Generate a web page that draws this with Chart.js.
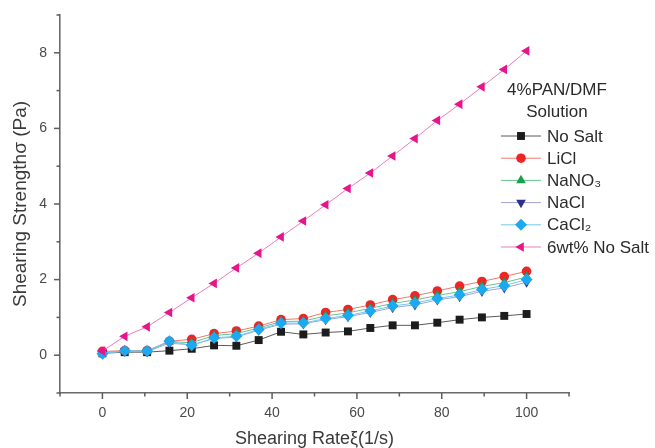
<!DOCTYPE html>
<html>
<head>
<meta charset="utf-8">
<script src="https://cdn.jsdelivr.net/npm/chart.js@4/dist/chart.umd.min.js"></script>
<style>
  html, body { margin: 0; padding: 0; background: #ffffff; }
  #wrap { width: 655px; height: 448px; }
</style>
</head>
<body>
<div id="wrap"><canvas id="c" width="655" height="448"></canvas></div>
<script>
// ---- data ----
const shearRate = [0, 5.26, 10.53, 15.79, 21.05, 26.32, 31.58, 36.84, 42.11, 47.37,
                   52.63, 57.89, 63.16, 68.42, 73.68, 78.95, 84.21, 89.47, 94.74, 100];
const noSalt    = [0.05, 0.08, 0.08, 0.12, 0.17, 0.26, 0.25, 0.40, 0.62, 0.55,
                   0.60, 0.63, 0.72, 0.79, 0.79, 0.86, 0.94, 1.00, 1.04, 1.09];
const liCl      = [0.10, 0.12, 0.12, 0.37, 0.42, 0.57, 0.64, 0.77, 0.94, 0.97,
                   1.13, 1.21, 1.33, 1.47, 1.57, 1.70, 1.83, 1.95, 2.08, 2.22];
const naNO3     = [0.07, 0.11, 0.10, 0.36, 0.33, 0.52, 0.57, 0.72, 0.89, 0.90,
                   1.04, 1.12, 1.24, 1.37, 1.46, 1.58, 1.68, 1.82, 1.92, 2.07];
const naCl      = [0.05, 0.10, 0.09, 0.32, 0.27, 0.44, 0.48, 0.66, 0.82, 0.83,
                   0.94, 1.02, 1.13, 1.26, 1.33, 1.46, 1.55, 1.69, 1.78, 1.93];
const caCl2     = [0.04, 0.12, 0.11, 0.37, 0.26, 0.46, 0.50, 0.68, 0.85, 0.85,
                   0.97, 1.05, 1.17, 1.30, 1.38, 1.50, 1.59, 1.74, 1.84, 2.00];
const noSalt6   = [0.11, 0.50, 0.75, 1.13, 1.52, 1.90, 2.31, 2.70, 3.13, 3.55,
                   3.98, 4.41, 4.82, 5.27, 5.73, 6.21, 6.64, 7.10, 7.56, 8.05];
const seriesLabels = ['No Salt', 'LiCl', 'NaNO\u2083', 'NaCl', 'CaCl\u2082', '6wt% No Salt'];
const legendTitle = ['4%PAN/DMF', 'Solution'];
const xTitle = 'Shearing Rate\u03BE(1/s)';
const yTitle = 'Shearing Strength\u03C3 (Pa)';

const FONT = "'Liberation Sans', Arial, sans-serif";

function pts(ys) { return shearRate.map((x, i) => ({ x: x, y: ys[i] })); }

const styles = [
  { line: '#5a5a5a', mark: '#1c1c1c', shape: 'rect',     rot: 0,   r: 5.6 },
  { line: '#f2776c', mark: '#ec2525', shape: 'circle',   rot: 0,   r: 4.8 },
  { line: '#66c48e', mark: '#17a04f', shape: 'triangle', rot: 0,   r: 5.6 },
  { line: '#a3a3d6', mark: '#2d2f8c', shape: 'triangle', rot: 180, r: 5.6 },
  { line: '#71c9f0', mark: '#1ba9ef', shape: 'rectRot',  rot: 0,   r: 6.0 },
  { line: '#f27bb9', mark: '#e5168b', shape: 'triangle', rot: -90, r: 5.6 }
];
const seriesData = [noSalt, liCl, naNO3, naCl, caCl2, noSalt6];

const datasets = seriesData.map((ys, i) => ({
  label: seriesLabels[i],
  data: pts(ys),
  borderColor: styles[i].line,
  borderWidth: 1,
  backgroundColor: styles[i].mark,
  pointBackgroundColor: styles[i].mark,
  pointBorderColor: styles[i].mark,
  pointBorderWidth: 0,
  pointStyle: styles[i].shape,
  pointRotation: styles[i].rot,
  pointRadius: styles[i].r,
  pointHoverRadius: styles[i].r,
  showLine: true,
  tension: 0,
  order: 6 - i
}));

// ticks (major / minor) drawn through the scales
const tickPlugin = {
  id: 'axisTicks',
  afterDraw(chart) {
    const ctx = chart.ctx;
    const xs = chart.scales.x, ys = chart.scales.y;
    ctx.save();
    ctx.strokeStyle = '#5c5c5c';
    ctx.lineWidth = 1.5;
    xs.ticks.forEach(t => {
      const major = Math.round(t.value) % 20 === 0;
      const px = xs.getPixelForValue(t.value);
      ctx.beginPath();
      ctx.moveTo(px, xs.top);
      ctx.lineTo(px, xs.top + (major ? 6 : 3.5));
      ctx.stroke();
    });
    ys.ticks.forEach(t => {
      const major = Math.round(t.value) % 2 === 0;
      const py = ys.getPixelForValue(t.value);
      ctx.beginPath();
      ctx.moveTo(ys.right, py);
      ctx.lineTo(ys.right - (major ? 6 : 3.5), py);
      ctx.stroke();
    });
    ctx.restore();
  }
};

// legend drawn inside the plot
const legendPlugin = {
  id: 'sideLegend',
  afterDraw(chart) {
    const ctx = chart.ctx;
    ctx.save();
    ctx.fillStyle = '#2a2a2a';
    ctx.font = '17px ' + FONT;
    ctx.textAlign = 'center';
    ctx.textBaseline = 'middle';
    ctx.fillText(legendTitle[0], 557, 90);
    ctx.fillText(legendTitle[1], 557, 112);
    const rowY0 = 136, rowStep = 22.2;
    chart.data.datasets.forEach((ds, i) => {
      const y = rowY0 + i * rowStep;
      ctx.strokeStyle = ds.borderColor;
      ctx.lineWidth = 1;
      ctx.beginPath();
      ctx.moveTo(501, y);
      ctx.lineTo(541, y);
      ctx.stroke();
      ctx.fillStyle = ds.pointBackgroundColor;
      ctx.strokeStyle = ds.pointBorderColor;
      Chart.helpers.drawPoint(ctx, {
        pointStyle: ds.pointStyle, rotation: ds.pointRotation,
        radius: ds.pointRadius, borderWidth: 0
      }, 521, y);
      ctx.fillStyle = '#2a2a2a';
      ctx.textAlign = 'left';
      ctx.fillText(ds.label, 547, y + 1);
    });
    ctx.restore();
  }
};

new Chart(document.getElementById('c'), {
  type: 'scatter',
  data: { datasets: datasets },
  plugins: [tickPlugin, legendPlugin],
  options: {
    responsive: false,
    animation: false,
    events: [],
    layout: { padding: { top: 15, right: 86, left: 0, bottom: 0 } },
    plugins: { legend: { display: false }, tooltip: { enabled: false } },
    scales: {
      x: {
        type: 'linear', min: -10, max: 110,
        afterFit(s) { s.height = 55; s.paddingLeft = 0; s.paddingRight = 0; },
        grid: { display: false, drawTicks: false },
        border: { display: true, color: '#6a6a6a', width: 1.6 },
        ticks: {
          stepSize: 10, autoSkip: false, maxRotation: 0, padding: 12,
          color: '#4a4a4a', font: { family: FONT, size: 14 },
          callback: v => (Math.round(v) % 20 === 0 ? String(v) : '')
        },
        title: {
          display: true, text: xTitle, color: '#3a3a3a',
          font: { family: FONT, size: 18, lineHeight: 1 },
          padding: { top: 0, bottom: 0 }
        }
      },
      y: {
        type: 'linear', min: -1, max: 9,
        afterFit(s) { s.width = 60; s.paddingTop = 0; s.paddingBottom = 0; },
        grid: { display: false, drawTicks: false },
        border: { display: true, color: '#6a6a6a', width: 1.6 },
        ticks: {
          stepSize: 1, autoSkip: false, padding: 13,
          color: '#4a4a4a', font: { family: FONT, size: 14 },
          callback: v => (Math.round(v) % 2 === 0 ? String(v) : '')
        },
        title: {
          display: true, text: yTitle, color: '#3a3a3a',
          font: { family: FONT, size: 19, lineHeight: 1 },
          padding: { top: 11, bottom: 0 }
        }
      }
    }
  }
});
</script>
</body>
</html>
